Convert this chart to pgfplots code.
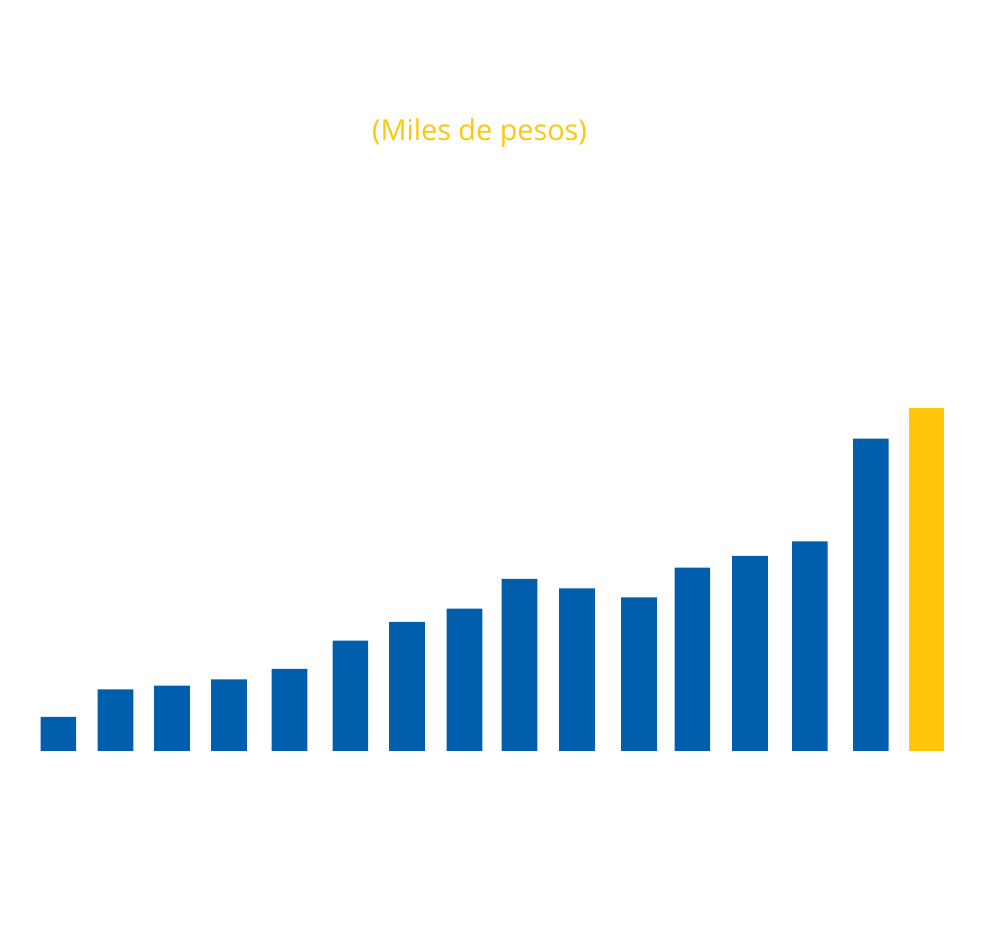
\documentclass[border=0pt]{standalone}
\usepackage{pgfplots}
\pgfplotsset{compat=1.18}
\usepackage{fontspec}
\setmainfont{Open Sans}
\definecolor{barblue}{RGB}{0,94,172}
\definecolor{baryellow}{RGB}{255,198,10}
\begin{document}
\begin{tikzpicture}
\begin{axis}[
  scale only axis,
  width=500bp, height=474.5bp,
  xmin=0, xmax=1000,
  ymin=-198, ymax=751,
  axis line style={draw=none},
  ticks=none,
  ybar, bar width=17.8bp,
  clip=false,
]
\addplot[fill=barblue, draw=none, bar shift=0pt] coordinates {
 (58.3,34) (115.5,61.7) (172,65.3) (229,71.7) (289.5,82) (350.3,110.3)
 (407,129) (464.5,142.3) (519.5,172) (577,162.7) (639,153.7) (692.3,183.3)
 (750,195) (809.8,209.7) (870.8,312.3)
};
\addplot[fill=baryellow, draw=none, bar shift=0pt] coordinates {
 (926.5,342.7)
};
\node[text=baryellow, font=\fontsize{14.4bp}{17bp}\selectfont, anchor=center] at (axis cs:479.5,618) {(Miles de pesos)};
\end{axis}
\end{tikzpicture}
\end{document}
